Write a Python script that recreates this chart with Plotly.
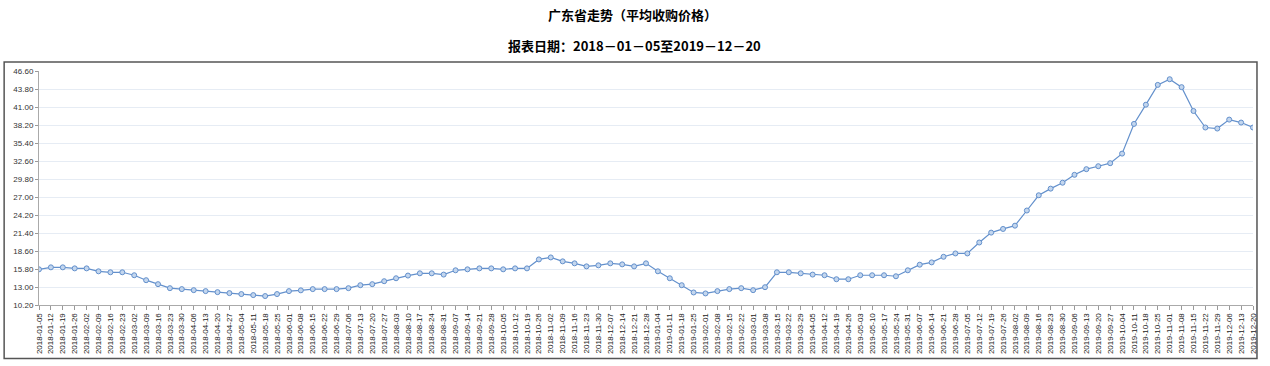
import datetime as dt
import plotly.graph_objects as go

# ---- data ----
start = dt.date(2018, 1, 5)
dates = [(start + dt.timedelta(days=7 * i)).isoformat() for i in range(103)]

prices = [
    15.75, 16.06, 16.06, 15.90, 15.90, 15.44, 15.29, 15.29, 14.83, 14.06,
    13.44, 12.82, 12.67, 12.51, 12.36, 12.20, 12.05, 11.90, 11.74, 11.59,
    11.90, 12.36, 12.48, 12.67, 12.67, 12.67, 12.82, 13.28, 13.44, 13.90,
    14.36, 14.78, 15.13, 15.13, 14.93, 15.60, 15.75, 15.90, 15.90, 15.75,
    15.90, 15.90, 17.29, 17.60, 16.99, 16.68, 16.21, 16.37, 16.68, 16.52,
    16.21, 16.68, 15.44, 14.36, 13.28, 12.15, 12.00, 12.36, 12.67, 12.82,
    12.51, 12.97, 15.29, 15.29, 15.13, 14.93, 14.83, 14.21, 14.21, 14.83,
    14.83, 14.83, 14.67, 15.60, 16.47, 16.83, 17.70, 18.22, 18.22, 19.92,
    21.46, 22.03, 22.54, 24.90, 27.27, 28.30, 29.22, 30.45, 31.33, 31.79,
    32.26, 33.75, 38.37, 41.36, 44.44, 45.32, 44.09, 40.38, 37.81, 37.65,
    39.04, 38.58, 37.81,
]

y_ticks = [10.2, 13.0, 15.8, 18.6, 21.4, 24.2, 27.0, 29.8, 32.6, 35.4, 38.2, 41.0, 43.8, 46.6]

title_text = "广东省走势（平均收购价格）"
subtitle_text = "报表日期：2018－01－05至2019－12－20"

# ---- layout geometry (pixels) ----
W, H = 1270, 366
L, R, T, B = 39, 1258, 71, 307
pw, ph = R - L, B - T

def px_x(x):
    return (x - L) / pw

def px_y(y):
    return (B - y) / ph

fig = go.Figure()
fig.add_trace(go.Scatter(
    x=list(range(len(dates))),
    y=prices,
    mode="lines+markers",
    line=dict(color="#6390cc", width=1.2),
    marker=dict(symbol="circle", size=5, color="#c3d6ee",
                line=dict(color="#6390cc", width=1)),
    hoverinfo="x+y",
    showlegend=False,
))

fig.update_layout(
    width=W, height=H,
    margin=dict(l=L, r=W - R, t=T, b=H - B),
    paper_bgcolor="white", plot_bgcolor="white",
    font=dict(family="Tahoma, 'DejaVu Sans', sans-serif", color="#333333"),
    xaxis=dict(
        range=[0, len(dates) - 1],
        tickmode="array",
        tickvals=list(range(len(dates))),
        ticktext=dates,
        tickangle=-90,
        tickfont=dict(size=8, family="'Liberation Sans', Arial", color="#222222"),
        ticks="outside", ticklen=4, tickcolor="#999999",
        showgrid=False, zeroline=False,
        showline=True, linecolor="#aaaaaa", linewidth=1,
        fixedrange=True,
    ),
    yaxis=dict(
        range=[10.2, 46.6],
        tickmode="array",
        tickvals=y_ticks,
        ticktext=[f"{v:.2f}" for v in y_ticks],
        tickfont=dict(size=8, family="'Liberation Sans', Arial", color="#333333"),
        ticks="outside", ticklen=3, tickcolor="#999999",
        showgrid=True, gridcolor="#e6ecf4", gridwidth=1,
        zeroline=False,
        showline=True, linecolor="#aaaaaa", linewidth=1,
        fixedrange=True,
    ),
    shapes=[
        dict(type="rect", xref="paper", yref="paper",
             x0=px_x(4), x1=px_x(1262), y0=px_y(361), y1=px_y(62),
             line=dict(color="#555555", width=1.5), fillcolor="rgba(0,0,0,0)",
             layer="below"),
    ],
    annotations=[
        dict(text="<b>" + title_text + "</b>", xref="paper", yref="paper",
             x=px_x(635), y=px_y(14), xanchor="center", yanchor="middle",
             showarrow=False,
             font=dict(size=13, family="'Noto Sans CJK SC'", color="#000000")),
        dict(text="<b>" + subtitle_text + "</b>", xref="paper", yref="paper",
             x=px_x(637), y=px_y(45), xanchor="center", yanchor="middle",
             showarrow=False,
             font=dict(size=13, family="'Noto Sans CJK SC'", color="#000000")),
    ],
)

fig.write_html("out.html", config={"displayModeBar": False},
               post_script="document.body.style.margin='0';")
